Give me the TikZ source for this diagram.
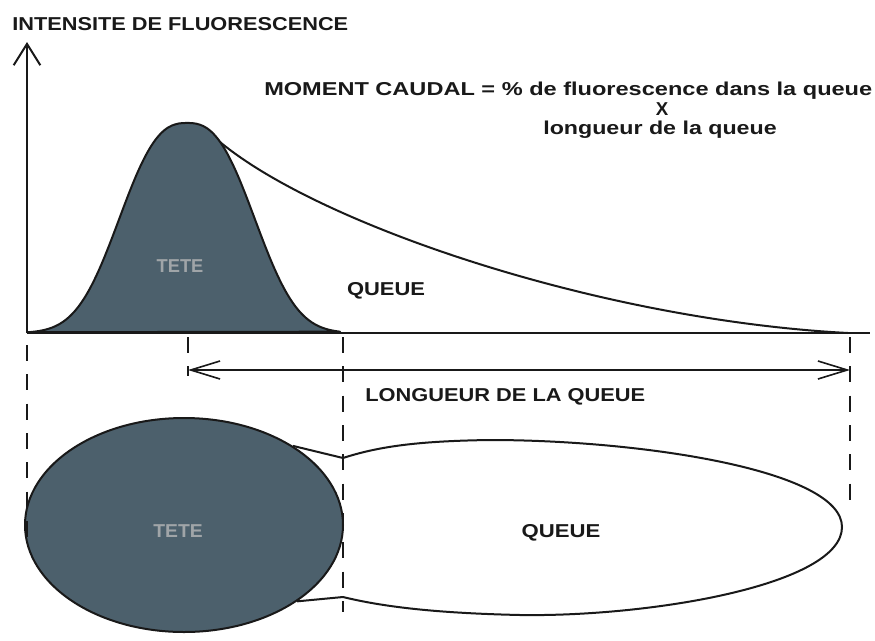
\documentclass[tikz,border=0pt]{standalone}
\usepackage{fontspec}
\setmainfont{Liberation Sans}
\usepackage{graphicx}
\usetikzlibrary{arrows.meta,shapes.geometric}
\definecolor{cmSlate}{RGB}{ 76, 96,108}
\definecolor{cmInk}  {RGB}{ 25, 25, 25}
\definecolor{cmPale} {RGB}{160,165,168}
\newcommand{\stretchto}[2]{\resizebox{#1}{\height}{#2}}

\begin{document}
\begin{tikzpicture}[
  x=0.75pt, y=-0.75pt,
  line join=round,
  lbl/.style={inner sep=0pt,font=\fontsize{14}{16}\selectfont\bfseries,text=cmInk},
  outline/.style={draw=cmInk,line width=1.5pt},
  guide/.style={draw=cmInk,line width=1.6pt,dash pattern=on 12pt off 10pt},
]
\fill[white] (0,0) rectangle (875,640);
\useasboundingbox (0,0) rectangle (875,640);

% axes
\coordinate (orig) at (27,333);
\coordinate (ytip) at (27,42);
\coordinate (xend) at (870,333);
\draw[outline,-{Straight Barb[length=16pt,width=20pt]}] (orig) -- (ytip);
\draw[outline] (orig) -- (xend);

% intensity profile: tail, then head on top
\coordinate (tailtop) at (220,142);
\coordinate (tailend) at (848,333);
\draw[outline] (tailtop) .. controls (320,225) and (600,320) .. (tailend);
\filldraw[outline,fill=cmSlate] plot[domain=28:340,samples=90,smooth]
   (\x,{333-210*exp(-((abs(\x-187)+0.01)/82)^2.6)}) -- cycle;

% comet seen from above
\node[ellipse,outline,fill=cmSlate,minimum width=238.5pt,minimum height=160.5pt,
      inner sep=0pt] (head) at (184,525) {};
\draw[outline] (head.36) -- (343,458) .. controls (380,446) and (420,441) .. (490,440)
   .. controls (640,440) and (842,470) .. (842,527)
   .. controls (842,585) and (650,617) .. (520,615)
   .. controls (430,613) and (380,606) .. (343,597) -- (head.-34);

% guides
\draw[guide] (27,345) -- (27,545);
\draw[guide] (188,337) -- (188,376);
\draw[guide] (343,337) -- (343,612);
\draw[guide] (850,337) -- (850,512);

% tail length
\coordinate (lenL) at (188,370);
\coordinate (lenR) at (850,370);
\draw[cmInk,line width=1.2pt,
      {Straight Barb[length=22pt,width=13.5pt]}-{Straight Barb[length=22pt,width=13.5pt]}]
   (lenL) -- (lenR);

% labels
\node[lbl,anchor=base west] (ylabel) at (12,30)
   {\stretchto{252pt}{INTENSITE DE FLUORESCENCE}};
\node[lbl,anchor=base west] (moment) at (264,95)
   {\stretchto{456pt}{MOMENT CAUDAL = \% de fluorescence dans la queue}};
\node[lbl,anchor=base] (times) at (662,115) {X};
\node[lbl,anchor=base] (tlen) at (660,134) {\stretchto{175pt}{longueur de la queue}};
\node[lbl,anchor=base west] (lenlbl) at (365,401) {\stretchto{210pt}{LONGUEUR DE LA QUEUE}};
\node[lbl,anchor=base,text=cmPale] (tete1) at (180,272) {\stretchto{35pt}{TETE}};
\node[lbl,anchor=base] (queue1) at (386,295) {\stretchto{58.5pt}{QUEUE}};
\node[lbl,anchor=base,text=cmPale] (tete2) at (178,537) {\stretchto{37pt}{TETE}};
\node[lbl,anchor=base] (queue2) at (561,537) {\stretchto{59pt}{QUEUE}};
\end{tikzpicture}
\end{document}
